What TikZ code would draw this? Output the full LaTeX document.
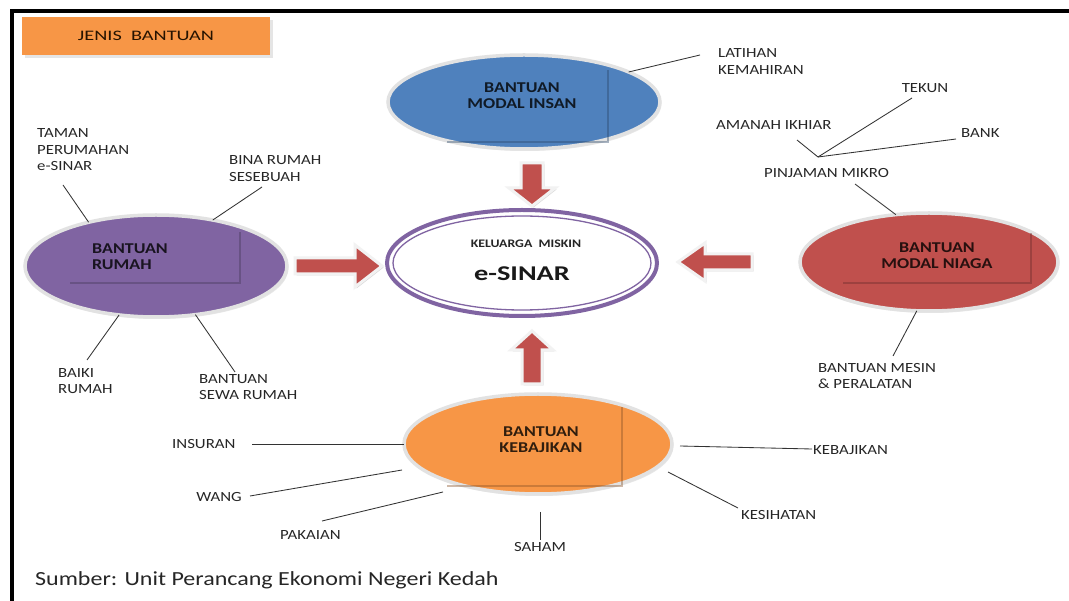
\documentclass[tikz,border=0pt]{standalone}
\usepackage{fontspec}
\newfontfamily\lblf[FakeStretch=1.2]{Carlito}
\newfontfamily\widef[FakeStretch=1.4]{Carlito}
\newfontfamily\sinarf[FakeStretch=1.35]{Carlito}
\usetikzlibrary{shapes.geometric,shadows}
\definecolor{bluefill}{HTML}{4F81BD}
\definecolor{purplefill}{HTML}{8064A2}
\definecolor{redfill}{HTML}{C0504D}
\definecolor{orangefill}{HTML}{F79646}
\definecolor{ringpurple}{HTML}{8064A2}
\definecolor{arrowred}{HTML}{C0504D}
\definecolor{linegray}{HTML}{333333}
\definecolor{rim}{HTML}{E2E2E2}
\begin{document}
\begin{tikzpicture}[x=1pt,y=-1pt,
  ell/.style={ellipse, draw=rim, line width=3.5pt, inner sep=0pt, outer sep=0pt,
    drop shadow={shadow xshift=1.5pt, shadow yshift=-2pt, opacity=.18}},
  lbl/.style={font={\lblf\fontsize{14}{16.5}\selectfont}, text=black!85, align=left, anchor=west, inner sep=0pt},
  head/.style={font={\lblf\bfseries\fontsize{15}{16}\selectfont}, inner sep=0pt},
  conn/.style={draw=linegray, line width=0.85pt},
  blockarrow/.style={fill=arrowred, draw=white!90!gray, line width=3pt, line join=miter,
    drop shadow={shadow xshift=1.5pt, shadow yshift=-1.5pt, opacity=.3}},
  tbshadow/.style={line width=1.3pt, opacity=.4},
]
\useasboundingbox (0,0) rectangle (1069,601);
\fill[white] (0,0) rectangle (1069,601);

% frame
\draw[line width=3.5pt, black] (12,601) -- (12,11) -- (1069,11);

% title box
\node[fill=orangefill, minimum width=248pt, minimum height=38pt, inner sep=0pt,
  drop shadow={shadow xshift=3pt, shadow yshift=-3pt, opacity=.2},
  font={\widef\fontsize{14.5}{16}\selectfont}, text=black!85!orange] (jenis) at (146,36) {JENIS\ \ BANTUAN};

% ellipses
\node[ell, fill=bluefill, minimum width=272pt, minimum height=94pt] (insan) at (524,102) {};
\node[ell, fill=purplefill, minimum width=262pt, minimum height=102pt] (rumah) at (156,266) {};
\node[ell, fill=redfill, minimum width=258pt, minimum height=98pt] (niaga) at (929,262) {};
\node[ell, fill=orangefill, minimum width=268pt, minimum height=100pt] (keb) at (538,444) {};
\node[ellipse, draw=ringpurple, line width=4pt, fill=white, inner sep=0pt, outer sep=0pt,
  minimum width=270pt, minimum height=106pt,
  drop shadow={shadow xshift=1pt, shadow yshift=-1.5pt, opacity=.15}] (pusat) at (522,263) {};
\draw[ringpurple, line width=1.3pt] (pusat.center) ellipse [x radius=129pt, y radius=47pt];

% text-box shadows inside ellipses
\draw[tbshadow, draw=bluefill!55!black] (447,142) -- (608,142) -- (608,70);
\draw[tbshadow, draw=purplefill!55!black] (70,283) -- (240,283) -- (240,232);
\draw[tbshadow, draw=redfill!55!black] (843,283) -- (1031,283) -- (1031,233);
\draw[tbshadow, draw=orangefill!55!black] (447,486) -- (622,486) -- (622,407);

% ellipse texts
\node[head, align=center, text=bluefill!20!black] (insanT) at (522,96) {BANTUAN\\MODAL INSAN};
\node[head, align=left, anchor=west, text=purplefill!20!black] (rumahT) at (92,256.5) {BANTUAN\\RUMAH};
\node[head, align=center, text=redfill!20!black] (niagaT) at (937,256) {BANTUAN\\MODAL NIAGA};
\node[head, align=center, text=orangefill!20!black] (kebT) at (541,440) {BANTUAN\\KEBAJIKAN};
\node[inner sep=0pt, font={\lblf\bfseries\fontsize{11.5}{13}\selectfont}, text=black!85] (miskin) at (526,244) {KELUARGA\ \ MISKIN};
\node[inner sep=0pt, font={\sinarf\bfseries\fontsize{21}{24}\selectfont}, text=black!90] (sinar) at (522,274) {e-SINAR};

% block arrows
\draw[blockarrow] (295,258) -- (355,258) -- (355,245) -- (382,266) -- (355,287) -- (355,274) -- (295,274) -- cycle;
\draw[blockarrow] (752,254) -- (705,254) -- (705,243) -- (678,262) -- (705,281) -- (705,270) -- (752,270) -- cycle;
\draw[blockarrow] (521,163) -- (543,163) -- (543,188) -- (555,188) -- (532,206) -- (509,188) -- (521,188) -- cycle;
\draw[blockarrow] (522,384) -- (542,384) -- (542,350) -- (553,350) -- (532,331) -- (511,350) -- (522,350) -- cycle;

% labels
\node[lbl] (latihan) at (718,61.5) {LATIHAN\\KEMAHIRAN};
\node[lbl, anchor=center] (tekun) at (925,88) {TEKUN};
\node[lbl] (amanah) at (716,125) {AMANAH IKHIAR};
\node[lbl] (bank) at (961,133) {BANK};
\node[lbl] (pinjaman) at (764,173) {PINJAMAN MIKRO};
\node[lbl] (taman) at (37,150) {TAMAN\\PERUMAHAN\\e-SINAR};
\node[lbl] (bina) at (229,168.5) {BINA RUMAH\\SESEBUAH};
\node[lbl] (baiki) at (58,381) {BAIKI\\RUMAH};
\node[lbl] (sewa) at (199,387) {BANTUAN\\SEWA RUMAH};
\node[lbl] (mesin) at (818,376) {BANTUAN MESIN\\\& PERALATAN};
\node[lbl] (insuran) at (172,444) {INSURAN};
\node[lbl, anchor=east] (wang) at (242,497) {WANG};
\node[lbl] (pakaian) at (280,535) {PAKAIAN};
\node[lbl, anchor=center] (saham) at (540,547) {SAHAM};
\node[lbl] (kebajikan) at (813,450) {KEBAJIKAN};
\node[lbl] (kesihatan) at (741,515) {KESIHATAN};
\node[anchor=west, inner sep=0pt, font={\lblf\fontsize{20}{24}\selectfont}, text=black!85] (sumber) at (35,580) {Sumber: Unit Perancang Ekonomi Negeri Kedah};

% connector free ends
\coordinate (lat-e) at (700,55);
\coordinate (jn) at (818,157);
\coordinate (ami-e) at (797,140);
\coordinate (tek-e) at (912,98);
\coordinate (bank-e) at (956,139);
\coordinate (pin-e) at (855,184);
\coordinate (mesin-e) at (893,356);
\coordinate (taman-e) at (63,185);
\coordinate (bina-e) at (262,187);
\coordinate (baiki-e) at (87,360);
\coordinate (sewa-e) at (235,372);
\coordinate (ins-e) at (252,444);
\coordinate (wang-a) at (402,470);
\coordinate (wang-b) at (250,496);
\coordinate (pak-a) at (443,492);
\coordinate (pak-b) at (322,521);
\coordinate (sah-a) at (540,512);
\coordinate (sah-b) at (540,540);
\coordinate (kb-a) at (680,446);
\coordinate (kb-b) at (812,449);
\coordinate (ks-a) at (668,472);
\coordinate (ks-b) at (738,508);

% connectors
\draw[conn] (insan.16) -- (lat-e);
\draw[conn] (ami-e) -- (jn);
\draw[conn] (jn) -- (tek-e);
\draw[conn] (jn) -- (bank-e);
\draw[conn] (pin-e) -- (niaga.125);
\draw[conn] (niaga.256) -- (mesin-e);
\draw[conn] (rumah.147) -- (taman-e);
\draw[conn] (rumah.39) -- (bina-e);
\draw[conn] (rumah.233) -- (baiki-e);
\draw[conn] (rumah.309) -- (sewa-e);
\draw[conn] (keb.180) -- (ins-e);
\draw[conn] (wang-a) -- (wang-b);
\draw[conn] (pak-a) -- (pak-b);
\draw[conn] (sah-a) -- (sah-b);
\draw[conn] (kb-a) -- (kb-b);
\draw[conn] (ks-a) -- (ks-b);
\end{tikzpicture}
\end{document}
